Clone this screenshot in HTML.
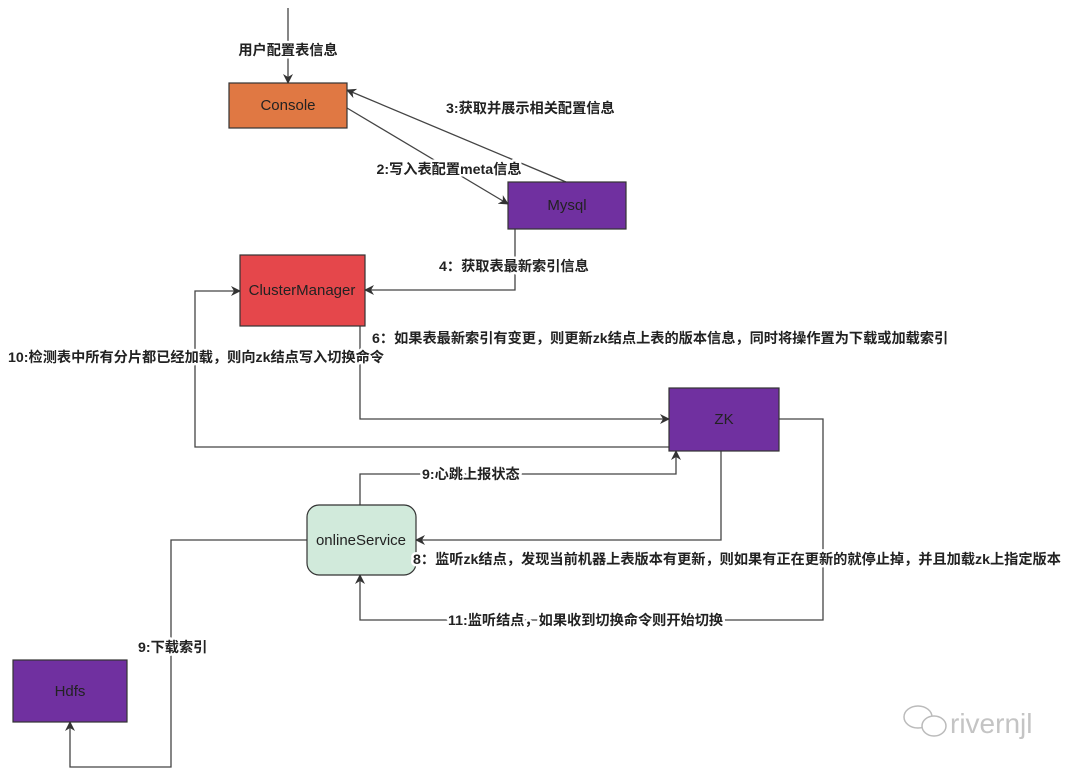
<!DOCTYPE html>
<html><head><meta charset="utf-8"><style>
body{margin:0;background:#fff;}
svg text{font-family:"Liberation Sans","Noto Sans CJK SC",sans-serif;font-size:14.2px;fill:#222;}
.l text{font-weight:bold;stroke:#fff;stroke-width:5px;paint-order:stroke;stroke-linejoin:round;}
</style></head><body>
<svg width="1080" height="774" viewBox="0 0 1080 774">
<defs><marker id="a" markerWidth="10" markerHeight="10" refX="9" refY="5" orient="auto" markerUnits="userSpaceOnUse"><path d="M0,0 L10,5 L0,10 L3,5 z" fill="#333"/></marker></defs>
<g fill="none" stroke="#444" stroke-width="1.3">
<path d="M288,8 V83" marker-end="url(#a)"/>
<path d="M347,108 L508,204" marker-end="url(#a)"/>
<path d="M566,182 L347,90" marker-end="url(#a)"/>
<path d="M515,229 V290 H365" marker-end="url(#a)"/>
<path d="M360,326 V419 H669" marker-end="url(#a)"/>
<path d="M669,447 H195 V291 H240" marker-end="url(#a)"/>
<path d="M360,505 V474 H676 V451" marker-end="url(#a)"/>
<path d="M721,451 V540 H416" marker-end="url(#a)"/>
<path d="M779,419 H823 V620 H360 V575" marker-end="url(#a)"/>
<path d="M307,540 H171 V767 H70 V722" marker-end="url(#a)"/>
</g>
<g stroke="#333" stroke-width="1.2">
<rect x="229" y="83" width="118" height="45" fill="#E07843"/>
<rect x="508" y="182" width="118" height="47" fill="#7030A0"/>
<rect x="240" y="255" width="125" height="71" fill="#E5474B"/>
<rect x="669" y="388" width="110" height="63" fill="#7030A0"/>
<rect x="307" y="505" width="109" height="70" rx="12" fill="#D1EADB"/>
<rect x="13" y="660" width="114" height="62" fill="#7030A0"/>
</g>
<g text-anchor="middle">
<text x="288" y="110" style="font-size:15px">Console</text>
<text x="567" y="210" style="font-size:15px">Mysql</text>
<text x="302" y="295" style="font-size:15px">ClusterManager</text>
<text x="724" y="424" style="font-size:15px">ZK</text>
<text x="361" y="545" style="font-size:15px">onlineService</text>
<text x="70" y="696" style="font-size:15px">Hdfs</text>
</g>
<g class="l">
<text x="288" y="55" text-anchor="middle">用户配置表信息</text>
<text x="446" y="113">3:获取并展示相关配置信息</text>
<text x="449" y="174" text-anchor="middle">2:写入表配置meta信息</text>
<text x="439" y="271">4：获取表最新索引信息</text>
<text x="372" y="343">6：如果表最新索引有变更，则更新zk结点上表的版本信息，同时将操作置为下载或加载索引</text>
<text x="8" y="362">10:检测表中所有分片都已经加载，则向zk结点写入切换命令</text>
<text x="422" y="479">9:心跳上报状态</text>
<text x="413" y="564">8：监听zk结点，发现当前机器上表版本有更新，则如果有正在更新的就停止掉，并且加载zk上指定版本</text>
<text x="448" y="625">11:监听结点，如果收到切换命令则开始切换</text>
<text x="138" y="652">9:下载索引</text>
</g>
<g fill="none" stroke="#bbb" stroke-width="1.5">
<ellipse cx="918" cy="717" rx="14" ry="11"/>
<ellipse cx="934" cy="726" rx="12" ry="10" fill="#fff"/>
</g>
<text x="950" y="733" style="font-size:28px;fill:#c4c4c4">rivernjl</text>
</svg>
</body></html>
